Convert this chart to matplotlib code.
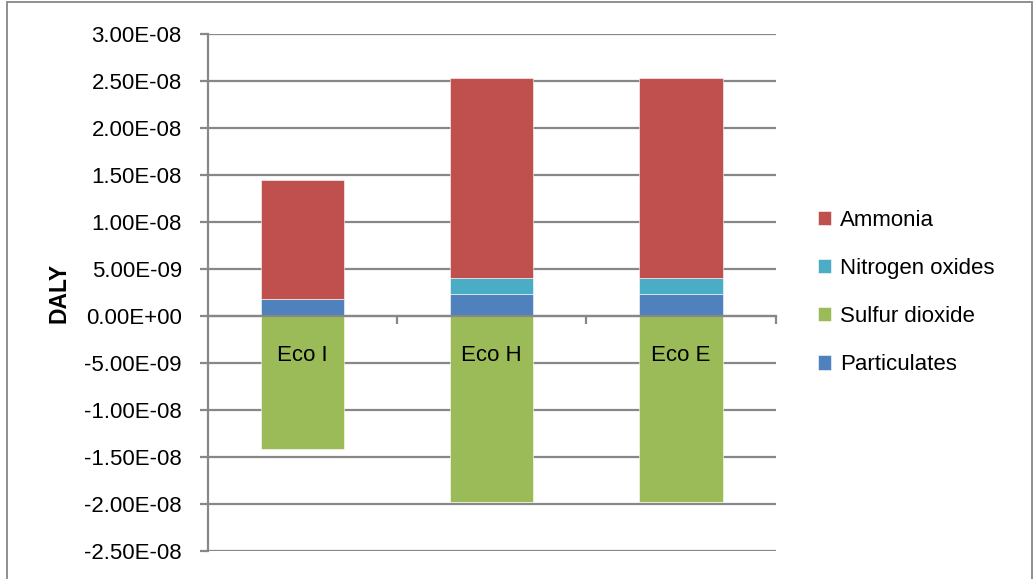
import matplotlib
matplotlib.use("Agg")
import matplotlib.pyplot as plt
import numpy as np
from matplotlib.patches import Rectangle

categories = ["Eco I", "Eco H", "Eco E"]
particulates = [1.78e-9, 2.41e-9, 2.41e-9]
nitrogen_oxides = [0.0, 1.67e-9, 1.67e-9]
ammonia = [1.27e-8, 2.124e-8, 2.124e-8]
sulfur_dioxide = [-1.415e-8, -1.975e-8, -1.975e-8]

COLORS = {
    "Ammonia": "#C0504D",
    "Nitrogen oxides": "#4BACC6",
    "Sulfur dioxide": "#9BBB59",
    "Particulates": "#4F81BD",
}
GRID = "#878787"
FS = 16

plt.rcParams["font.family"] = ["Liberation Sans", "DejaVu Sans"]

fig = plt.figure(figsize=(10.34, 5.79), dpi=100)
ax = fig.add_axes([0.201, 0.048, 0.549, 0.893])

x = np.arange(len(categories))
w = 0.44
p = np.array(particulates)
n = np.array(nitrogen_oxides)
a = np.array(ammonia)
s = np.array(sulfur_dioxide)

kw = dict(width=w, edgecolor="white", linewidth=0.4, zorder=3)
b_p = ax.bar(x, p, color=COLORS["Particulates"], label="Particulates", **kw)
b_n = ax.bar(x, n, bottom=p, color=COLORS["Nitrogen oxides"], label="Nitrogen oxides", **kw)
b_a = ax.bar(x, a, bottom=p + n, color=COLORS["Ammonia"], label="Ammonia", **kw)
b_s = ax.bar(x, s, color=COLORS["Sulfur dioxide"], label="Sulfur dioxide", **kw)

ax.set_xlim(-0.5, len(categories) - 0.5)
ax.set_ylim(-2.5e-8, 3.0e-8)
yt = np.arange(-2.5e-8, 3.01e-8, 0.5e-8)
ax.set_yticks(yt)
ax.set_yticklabels([f"{v:.2E}" if abs(v) > 1e-20 else "0.00E+00" for v in yt])
ax.yaxis.grid(True, color=GRID, linewidth=1.6, zorder=0)
ax.set_axisbelow(True)

for side in ["top", "right"]:
    ax.spines[side].set_visible(False)
ax.spines["left"].set_color(GRID)
ax.spines["left"].set_linewidth(1.6)
ax.spines["bottom"].set_position(("data", 0))
ax.spines["bottom"].set_color(GRID)
ax.spines["bottom"].set_linewidth(1.6)
ax.spines["bottom"].set_zorder(4)

# category labels sit just under the zero line, over the bars
ax.set_xticks(x)
ax.set_xticklabels([])
ax.tick_params(axis="x", which="major", length=0)
for xi, cat in zip(x, categories):
    ax.annotate(cat, (xi, 0), xytext=(0, -28), textcoords="offset points",
                ha="center", va="center", fontsize=FS, zorder=6)
ax.set_xticks(np.arange(0.5, len(categories), 1.0), minor=True)
ax.tick_params(axis="x", which="minor", length=6, width=1.6, color=GRID, direction="out")
ax.tick_params(axis="y", length=5.8, width=1.6, color=GRID, pad=13, labelsize=FS)

ax.set_ylabel("DALY", fontsize=FS + 0.5, fontweight="bold", labelpad=10)

handles = [b_a, b_n, b_s, b_p]
ax.legend(handles, [h.get_label() for h in handles], loc="center left",
          bbox_to_anchor=(1.075, 0.5), frameon=False, fontsize=FS,
          borderpad=0, borderaxespad=0,
          handlelength=0.6, handleheight=0.6, handletextpad=0.4,
          labelspacing=1.22)

fig.patches.append(Rectangle((0.007, -0.02), 0.991, 1.016, transform=fig.transFigure,
                             fill=False, edgecolor=GRID, linewidth=1.3))

fig.savefig("out.png", dpi=100)
